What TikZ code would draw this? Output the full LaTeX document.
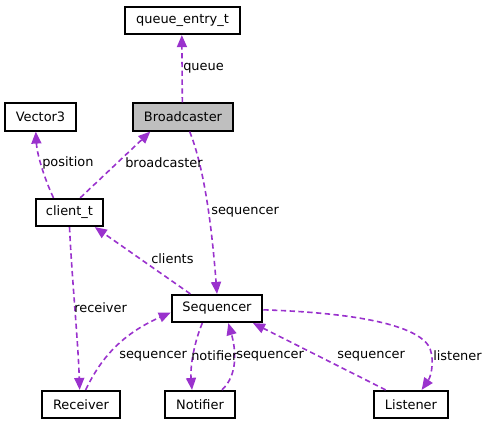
\documentclass[tikz,border=0pt]{standalone}
\usepackage{fontspec}
\setmainfont{DejaVu Sans}
\usetikzlibrary{arrows.meta}
\definecolor{edgec}{HTML}{9A32CD}
\definecolor{boxfill}{HTML}{BFBFBF}
\tikzset{
  cls/.style={draw=black, line width=1.4pt, fill=white, inner sep=0pt, minimum height=20.5pt, font=\fontsize{9.7}{11}\selectfont},
  dep/.style={draw=edgec, line width=1.2pt, dash pattern=on 4pt off 2.6pt, -{Triangle[length=9pt,width=7.5pt]}},
  lbl/.style={inner sep=0pt, font=\fontsize{9.7}{11}\selectfont}
}
\begin{document}
\begin{tikzpicture}[x=0.75pt,y=-0.75pt]
\useasboundingbox (0,0) rectangle (483,423);
\node[cls, minimum width=86pt] (q) at (182.5,20.5) {queue\_entry\_t};
\node[cls, minimum width=75pt, fill=boxfill] (bc) at (183,117) {Broadcaster};
\node[cls, minimum width=53pt] (v3) at (40.5,117) {Vector3};
\node[cls, minimum width=50pt] (ct) at (69.5,212.5) {client\_t};
\node[cls, minimum width=68pt] (seq) at (217,308.5) {Sequencer};
\node[cls, minimum width=58.5pt] (rec) at (81,404.5) {Receiver};
\node[cls, minimum width=52.5pt] (nt) at (200,404.5) {Notifier};
\node[cls, minimum width=55.5pt] (lis) at (411,404.5) {Listener};

% edges
\draw[dep] ([xshift=-0.5pt]bc.north) -- ([xshift=-0.5pt]q.south);
\draw[dep] ([xshift=-12pt]ct.north) .. controls (45,180) and (37,155) .. ([xshift=-3.5pt]v3.south);
\draw[dep] ([xshift=8pt]ct.north) -- ([xshift=-24.5pt]bc.south);
\draw[dep] ([xshift=5pt]bc.south) .. controls (205,170) and (212,230) .. (seq.north);
\draw[dep] ([xshift=-20pt]seq.north) -- ([xshift=19pt]ct.south);
\draw[dep] (ct.south) .. controls (72,280) and (78,340) .. ([xshift=-1pt]rec.north);
\draw[dep] ([xshift=3.5pt]rec.north) .. controls (100,360) and (120,335) .. ([yshift=-3pt]seq.west);
\draw[dep] ([xshift=-11pt]seq.south) .. controls (195,340) and (190,365) .. ([xshift=-6pt]nt.north);
\draw[dep] ([xshift=16.5pt]nt.north) .. controls (238,375) and (236,350) .. ([xshift=8.5pt]seq.south);
\draw[dep] ([xshift=-19pt]lis.north) -- ([xshift=27pt]seq.south);
\draw[dep] ([yshift=-1pt]seq.east) .. controls (330,312) and (410,320) .. (428,345) .. controls (435,355) and (432,375) .. ([xshift=8pt]lis.north);

% labels
\node[lbl, anchor=west] (l1) at (183,68) {queue};
\node[lbl, anchor=west] (l2) at (42,163) {position};
\node[lbl, anchor=west] (l3) at (125,163) {broadcaster};
\node[lbl, anchor=west] (l4) at (211,212) {sequencer};
\node[lbl, anchor=west] (l5) at (151,259) {clients};
\node[lbl, anchor=west] (l6) at (74,308) {receiver};
\node[lbl, anchor=west] (l7) at (119,356) {sequencer};
\node[lbl, anchor=west] (l8) at (191,356) {notifier};
\node[lbl, anchor=west] (l9) at (236,356) {sequencer};
\node[lbl, anchor=west] (l10) at (337,356) {sequencer};
\node[lbl, anchor=west] (l11) at (433,356) {listener};
\end{tikzpicture}
\end{document}
